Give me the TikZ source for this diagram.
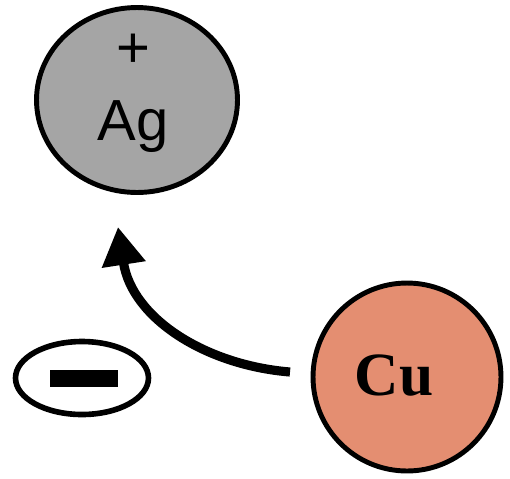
\documentclass[tikz,border=0pt]{standalone}
\usepackage{fontspec}
\usepackage{xcolor}
\usepackage{tikz}
\usetikzlibrary{arrows.meta,shapes.geometric}
\newfontfamily\arialfont{Liberation Sans}
\newfontfamily\timesfont{Liberation Serif}
\definecolor{agray}{RGB}{165,165,165}
\definecolor{copper}{RGB}{228,142,113}

\begin{document}
\begin{tikzpicture}[
  x=0.02cm,y=-0.02cm,
  atom/.style={draw,ellipse,line width=2.8pt,inner sep=0pt},
  lbl/.style={inner sep=0pt,anchor=base},
  flow/.style={-{Triangle[length=0.76cm,width=0.84cm]},line width=5.2pt}]
\useasboundingbox (0,0) rectangle (510,478);
% silver ion
\node[atom,fill=agray,minimum width=4.02cm,minimum height=3.7cm] (Ag) at (137,100) {};
\node[inner sep=0pt] (plus) at (133,51) {\arialfont\fontsize{33}{36}\selectfont +};
\node[lbl] (agtxt) at (133,140) {\arialfont\fontsize{33}{36}\selectfont Ag};
% copper atom
\node[atom,fill=copper,minimum width=3.76cm,minimum height=3.76cm] (Cu) at (407,377) {};
\node[lbl] (cutxt) at (394,395) {\timesfont\bfseries\fontsize{35}{38}\selectfont Cu};
% electron
\node[atom,line width=3.2pt,minimum width=2.66cm,minimum height=1.46cm] (el) at (82,378) {};
\node[fill=black,inner sep=0pt,minimum width=1.36cm,minimum height=0.34cm] (minus) at (84,378) {};
% transfer
\coordinate (tail) at (290,372);
\coordinate (tip) at (118,227);
\draw[flow] (tail) .. controls (205,365) and (132,318) .. (tip);
\end{tikzpicture}
\end{document}
